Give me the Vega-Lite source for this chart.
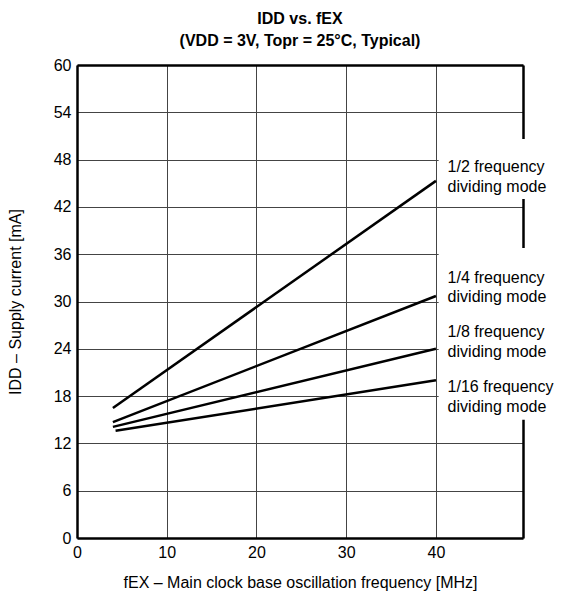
{
  "$schema": "https://vega.github.io/schema/vega-lite/v6.json",
  "autosize": {"type": "none"},
  "width": 446,
  "height": 473,
  "padding": {"left": 77, "top": 65, "right": 55, "bottom": 61},
  "background": "white",
  "config": {
    "view": {"stroke": null},
    "font": "Liberation Sans",
    "axis": {"labelFont": "Liberation Sans", "titleFont": "Liberation Sans", "labelFontSize": 16, "titleFontSize": 16, "labelColor": "black", "titleColor": "black", "titleFontWeight": "normal"}
  },
  "title": {
    "text": ["IDD vs. fEX", "(VDD = 3V, Topr = 25°C, Typical)"],
    "fontSize": 16,
    "fontWeight": "bold",
    "font": "Liberation Sans",
    "lineHeight": 22,
    "anchor": "middle",
    "offset": 8,
    "color": "black"
  },
  "datasets": {
    "series": [
      {"f": 4, "idd": 16.5, "mode": "1/2"},
      {"f": 40, "idd": 45.3, "mode": "1/2"},
      {"f": 4, "idd": 14.7, "mode": "1/4"},
      {"f": 40, "idd": 30.7, "mode": "1/4"},
      {"f": 4, "idd": 14.1, "mode": "1/8"},
      {"f": 40, "idd": 24.0, "mode": "1/8"},
      {"f": 4.3, "idd": 13.6, "mode": "1/16"},
      {"f": 40, "idd": 20.0, "mode": "1/16"}
    ],
    "labels": [
      {"f": 41.3, "idd": 47.0, "label": "1/2 frequency\ndividing mode"},
      {"f": 41.3, "idd": 33.0, "label": "1/4 frequency\ndividing mode"},
      {"f": 41.3, "idd": 26.1, "label": "1/8 frequency\ndividing mode"},
      {"f": 41.3, "idd": 19.1, "label": "1/16 frequency\ndividing mode"}
    ],
    "masks": [
      {"f1": 40.3, "f2": 58, "i1": 43.0, "i2": 50.6},
      {"f1": 40.3, "f2": 58, "i1": 15.0, "i2": 36.8}
    ]
  },
  "layer": [
    {
      "data": {"name": "series"},
      "mark": {"type": "line", "color": "black", "strokeWidth": 2.5},
      "encoding": {
        "x": {
          "field": "f", "type": "quantitative",
          "scale": {"domain": [0, 49.7], "nice": false, "zero": false},
          "axis": {"orient": "bottom", "values": [0, 10, 20, 30, 40], "title": "fEX – Main clock base oscillation frequency [MHz]", "grid": true, "gridColor": "#444", "gridWidth": 1, "gridOpacity": 1, "ticks": false, "domainColor": "black", "domainWidth": 2.5, "labelPadding": 6, "titlePadding": 14, "labelFlush": false}
        },
        "y": {
          "field": "idd", "type": "quantitative",
          "scale": {"domain": [0, 60], "nice": false},
          "axis": {"orient": "left", "values": [0, 6, 12, 18, 24, 30, 36, 42, 48, 54, 60], "title": "IDD – Supply current [mA]", "grid": true, "gridColor": "#444", "gridWidth": 1, "gridOpacity": 1, "ticks": false, "domainColor": "black", "domainWidth": 2.5, "labelPadding": 6, "titlePadding": 30, "labelFlush": false}
        },
        "detail": {"field": "mode"}
      }
    },
    {
      "data": {"name": "masks"},
      "mark": {"type": "rect", "fill": "white", "stroke": null},
      "encoding": {
        "x": {"field": "f1", "type": "quantitative", "axis": {"orient": "top", "labels": false, "ticks": false, "grid": false, "title": null, "domainColor": "black", "domainWidth": 2.5}},
        "x2": {"field": "f2"},
        "y": {"field": "i1", "type": "quantitative", "axis": {"orient": "right", "labels": false, "ticks": false, "grid": false, "title": null, "domainColor": "black", "domainWidth": 2.5}},
        "y2": {"field": "i2"}
      }
    },
    {
      "data": {"name": "labels"},
      "mark": {"type": "text", "align": "left", "baseline": "middle", "fontSize": 16, "lineHeight": 19.5, "lineBreak": "\n", "font": "Liberation Sans", "color": "black"},
      "encoding": {
        "x": {"field": "f", "type": "quantitative", "axis": null},
        "y": {"field": "idd", "type": "quantitative", "axis": null},
        "text": {"field": "label"}
      }
    }
  ],
  "resolve": {"axis": {"x": "independent", "y": "independent"}}
}
